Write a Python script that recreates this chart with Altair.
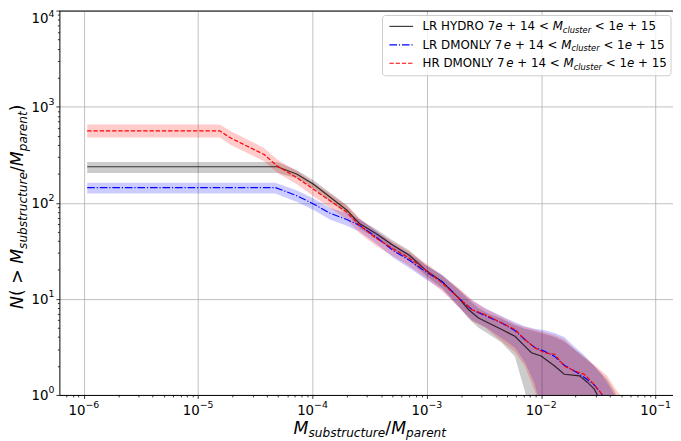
import altair as alt
import pandas as pd

# ---------------- data ----------------
HYDRO_X = [1.07e-6, 4.92e-5, 7.33e-5, 1.02e-4, 1.42e-4, 1.99e-4, 2.59e-4, 3.61e-4, 5.04e-4,
           7.02e-4, 9.77e-4, 1.36e-3, 1.90e-3, 2.32e-3, 2.83e-3, 3.46e-3, 4.52e-3, 5.89e-3,
           7.18e-3, 8.20e-3, 9.98e-3, 1.31e-2, 1.59e-2, 2.16e-2, 2.54e-2, 2.91e-2, 3.10e-2]
HYDRO_N = [237, 237, 198, 156, 115, 84, 60.3, 47.5, 36.1, 28.4, 19.9, 15.1, 10.2, 7.71, 6.32,
           5.61, 4.79, 4.08, 3.22, 2.75, 2.54, 2.00, 1.64, 1.58, 1.35, 1.15, 1.0]
HYDRO_BAND_X = [1.07e-6, 4.92e-5, 7.33e-5, 1.02e-4, 1.42e-4, 1.99e-4, 2.59e-4, 3.61e-4, 5.04e-4,
                7.02e-4, 9.77e-4, 1.36e-3, 1.90e-3, 2.32e-3, 2.83e-3, 3.46e-3, 4.52e-3, 5.89e-3,
                7.18e-3, 8.20e-3, 9.98e-3, 1.31e-2, 1.59e-2, 2.16e-2, 2.54e-2, 2.91e-2, 3.10e-2,
                3.78e-2, 4.47e-2]
HYDRO_LO = [204, 204, 180, 142, 104, 76, 54, 42.5, 32, 25, 17.5, 13, 8.4, 6.2, 5.0, 4.3, 3.5,
            2.5, 1.1, 0.5, 0.5, 0.5, 0.5, 0.5, 0.5, 0.5, 0.5, 0.5, 0.5]
HYDRO_HI = [265, 265, 218, 172, 128, 94, 67, 53, 40.5, 32, 22.5, 17.5, 12.5, 9.8, 8.0, 7.0, 6.2,
            5.3, 4.9, 4.7, 4.4, 4.0, 3.6, 2.7, 2.3, 2.0, 1.85, 1.45, 1.05]

LRDM_X = [1.07e-6, 4.72e-5, 7.33e-5, 1.02e-4, 1.42e-4, 1.99e-4, 2.59e-4, 3.61e-4, 5.04e-4,
          7.02e-4, 9.77e-4, 1.36e-3, 1.90e-3, 2.48e-3, 3.24e-3, 4.52e-3, 5.89e-3, 7.18e-3,
          8.77e-3, 1.07e-2, 1.31e-2, 1.59e-2, 1.95e-2, 2.37e-2, 2.91e-2, 3.42e-2]
LRDM_N = [144, 144, 118, 97.0, 78, 67, 58, 43.9, 32.0, 25.2, 19.1, 15.1, 10.2, 7.71, 6.69,
          5.61, 4.68, 3.78, 3.12, 2.84, 2.52, 2.04, 1.77, 1.53, 1.27, 1.0]
LRDM_BAND_X = [1.07e-6, 4.72e-5, 7.33e-5, 1.02e-4, 1.42e-4, 1.99e-4, 2.59e-4, 3.61e-4, 5.04e-4,
               7.02e-4, 9.77e-4, 1.36e-3, 1.90e-3, 2.48e-3, 3.24e-3, 4.52e-3, 5.89e-3, 7.18e-3,
               8.77e-3, 1.07e-2, 1.31e-2, 1.59e-2, 1.95e-2, 2.37e-2, 2.91e-2, 3.42e-2, 4.0e-2,
               4.6e-2]
LRDM_LO = [125, 125, 102, 84, 67, 57.5, 50, 37.5, 27, 21, 16, 12.5, 8.2, 6.0, 5.1, 3.9, 3.1,
           2.2, 1.3, 0.5, 0.5, 0.5, 0.5, 0.5, 0.5, 0.5, 0.5, 0.5]
LRDM_HI = [162, 162, 134, 111, 89, 78, 67, 51, 37.5, 29.5, 22.5, 17.8, 12.5, 9.6, 8.0, 6.6, 5.7,
           5.2, 4.9, 4.7, 4.4, 4.0, 3.2, 2.6, 2.0, 1.6, 1.2, 0.9]

HRDM_X = [1.07e-6, 1.54e-5, 1.93e-5, 3.77e-5, 4.92e-5, 7.33e-5, 1.02e-4, 1.42e-4, 1.99e-4,
          2.59e-4, 3.61e-4, 5.04e-4, 7.02e-4, 9.77e-4, 1.36e-3, 1.90e-3, 2.48e-3, 3.24e-3,
          4.52e-3, 5.89e-3, 7.18e-3, 8.77e-3, 1.07e-2, 1.31e-2, 1.59e-2, 1.95e-2, 2.37e-2,
          2.72e-2, 3.21e-2, 3.42e-2]
HRDM_N = [561, 561, 471, 318, 241, 182, 138, 105, 80, 58, 42.5, 33.3, 26.5, 19.9, 14.6, 10.2,
          7.71, 6.84, 5.61, 4.79, 3.78, 3.10, 2.75, 2.65, 2.00, 1.78, 1.64, 1.40, 1.11, 1.0]
HRDM_BAND_X = [1.07e-6, 1.54e-5, 1.93e-5, 3.77e-5, 4.92e-5, 7.33e-5, 1.02e-4, 1.42e-4, 1.99e-4,
               2.59e-4, 3.61e-4, 5.04e-4, 7.02e-4, 9.77e-4, 1.36e-3, 1.90e-3, 2.48e-3, 3.24e-3,
               4.52e-3, 5.89e-3, 7.18e-3, 8.77e-3, 1.07e-2, 1.31e-2, 1.59e-2, 1.95e-2, 2.37e-2,
               3.00e-2, 3.78e-2, 4.47e-2, 5.28e-2]
HRDM_LO = [479, 479, 400, 270, 205, 155, 117, 89, 67, 48, 35.5, 28, 22, 16.5, 12, 8.2, 5.9, 5.0,
           3.6, 2.8, 2.0, 1.1, 0.5, 0.5, 0.5, 0.5, 0.5, 0.5, 0.5, 0.5, 0.5]
HRDM_HI = [652, 652, 555, 372, 282, 213, 162, 124, 94, 69, 50, 39, 31, 23.5, 17.5, 13.0, 9.8,
           7.9, 6.5, 5.5, 5.1, 4.8, 4.5, 4.2, 3.8, 3.0, 2.5, 2.0, 1.57, 1.15, 0.9]

X_MAJOR = [1e-6, 1e-5, 1e-4, 1e-3, 1e-2, 1e-1]
X_EXP = ["\u22126", "\u22125", "\u22124", "\u22123", "\u22122", "\u22121"]
Y_MAJOR = [1, 10, 100, 1000, 10000]
Y_EXP = ["0", "1", "2", "3", "4"]
LEGEND_NAMES = ["LR HYDRO", "LR DMONLY", "HR DMONLY"]

# ---------------- layout ----------------
W, H = 621, 389
X_DOM = [6.11e-7, 0.142]
Y_DOM = [1, 10000]
FONT = "DejaVu Sans"

ADV = {" ": .318, "(": .390, ")": .390, "+": .838, "<": .838, ">": .838, "/": .337,
       "\u2212": .838, "A": .684, "D": .770, "H": .752, "L": .557, "M": .863, "N": .748,
       "O": .787, "R": .695, "Y": .611, "a": .613, "b": .635, "c": .550, "e": .615,
       "l": .278, "n": .634, "p": .635, "r": .411, "s": .521, "t": .392, "u": .634}
for d in "0123456789":
    ADV[d] = .636


def tw(s, size):
    return sum(ADV.get(c, 0.6) for c in s) * size


one = pd.DataFrame({"a": [0]})


def txt(text, x, y, size, italic=False, angle=0, align="left"):
    return alt.Chart(one).mark_text(
        text=text, align=align, baseline="alphabetic", fontSize=size, font=FONT,
        fontStyle="italic" if italic else "normal", angle=angle, color="black"
    ).encode(x=alt.value(x), y=alt.value(y))


def run(pieces, x0, y0, fs, sub_scale=0.7, sub_shift=3.0, vertical=False):
    out = []
    pos = 0.0
    for s, st in pieces:
        size = fs * sub_scale if st == "s" else fs
        ital = st in ("i", "s")
        shift = sub_shift if st == "s" else 0.0
        lead = len(s) - len(s.lstrip(" "))
        core = s.strip(" ")
        p = pos + tw(" " * lead, size)
        if core:
            if vertical:
                out.append(txt(core, x0 + shift, y0 - p, size, ital, angle=270))
            else:
                out.append(txt(core, x0 + p, y0 + shift, size, ital))
        pos += tw(s, size)
    return out


minor_x = [k * 10.0 ** e for e in range(-7, 0) for k in range(2, 10)
           if X_DOM[0] <= k * 10.0 ** e <= X_DOM[1]]
minor_y = [k * 10.0 ** e for e in range(0, 4) for k in range(2, 10)]
major_test = "abs(log(datum.value)/LN10 - round(log(datum.value)/LN10)) < 0.001"


def make_axis(vals):
    return alt.Axis(values=vals, labels=False, title=None, domain=True, domainColor="black",
                    domainWidth=1, ticks=True, tickColor="black", tickWidth=0.8,
                    tickSize={"condition": {"test": major_test, "value": 3.5}, "value": 2},
                    grid=True, gridColor="#b0b0b0", gridWidth=0.8,
                    gridOpacity={"condition": {"test": major_test, "value": 1}, "value": 0})


ax_x = make_axis(X_MAJOR + minor_x)
ax_y = make_axis(Y_MAJOR + minor_y)
xs = alt.Scale(type="log", domain=X_DOM, nice=False)
ys = alt.Scale(type="log", domain=Y_DOM, nice=False)


def band(xv, lo, hi, color):
    df = pd.DataFrame({"x": xv, "lo": lo, "hi": hi})
    return alt.Chart(df).mark_area(clip=True, color=color, opacity=0.2).encode(
        x=alt.X("x:Q", scale=xs, axis=ax_x), y=alt.Y("lo:Q", scale=ys, axis=ax_y), y2="hi:Q")


def line(xv, yv, color, dash, opacity=1.0):
    df = pd.DataFrame({"x": xv, "y": yv})
    kw = dict(clip=True, color=color, strokeWidth=1.2, opacity=opacity)
    if dash:
        kw["strokeDash"] = dash
    return alt.Chart(df).mark_line(**kw).encode(
        x=alt.X("x:Q", scale=xs, axis=ax_x), y=alt.Y("y:Q", scale=ys, axis=ax_y))


DASH_R = [4.4, 1.9]
DASH_B = [7.7, 1.9, 1.2, 1.9]

layers = [
    band(HYDRO_BAND_X, HYDRO_LO, HYDRO_HI, "black"),
    band(LRDM_BAND_X, LRDM_LO, LRDM_HI, "blue"),
    band(HRDM_BAND_X, HRDM_LO, HRDM_HI, "red"),
    line(HYDRO_X, HYDRO_N, "black", None, 0.75),
    line(LRDM_X, LRDM_N, "blue", DASH_B),
    line(HRDM_X, HRDM_N, "red", DASH_R),
]

# top spine
layers.append(alt.Chart(one).mark_rule(color="black", strokeWidth=1).encode(
    x=alt.value(0), x2=alt.value(W), y=alt.value(0.5), y2=alt.value(0.5)))

# tick labels (10 with superscript exponent)
TL = 13.5
TE = 9.5
xdf = pd.DataFrame({"v": X_MAJOR, "b": ["10"] * len(X_MAJOR), "e": X_EXP})
x_dx = (tw("10", TL) - tw(X_EXP[0], TE)) / 2
layers.append(alt.Chart(xdf).mark_text(align="right", baseline="alphabetic", dx=x_dx,
                                       fontSize=TL, font=FONT, color="black").encode(
    x=alt.X("v:Q", scale=xs, axis=ax_x), y=alt.value(H + 20), text="b:N"))
layers.append(alt.Chart(xdf).mark_text(align="left", baseline="alphabetic", dx=x_dx,
                                       fontSize=TE, font=FONT, color="black").encode(
    x=alt.X("v:Q", scale=xs, axis=ax_x), y=alt.value(H + 13.6), text="e:N"))

# y tick labels; the topmost one is nudged down so it stays inside the page
ydf = pd.DataFrame({"v": Y_MAJOR, "b": ["10"] * len(Y_MAJOR), "e": Y_EXP})
ydf_low = ydf.iloc[:-1]
ydf_top = ydf.iloc[-1:]
y_exp_w = tw("0", TE)
for dfy, shift in ((ydf_low, 0), (ydf_top, 8)):
    layers.append(alt.Chart(dfy).mark_text(align="right", baseline="alphabetic", dy=5 + shift,
                                           fontSize=TL, font=FONT, color="black").encode(
        x=alt.value(-5 - y_exp_w), y=alt.Y("v:Q", scale=ys, axis=ax_y), text="b:N"))
    layers.append(alt.Chart(dfy).mark_text(align="left", baseline="alphabetic",
                                           dy=-1.5 + shift, fontSize=TE, font=FONT,
                                           color="black").encode(
        x=alt.value(-5 - y_exp_w), y=alt.Y("v:Q", scale=ys, axis=ax_y), text="e:N"))

# axis titles (mathtext-like)
FT = 17.5
layers += run([("M", "i"), ("substructure", "s"), ("/", "n"), ("M", "i"), ("parent", "s")],
              237, 428.5, FT, sub_shift=3.5)
layers += run([("N", "i"), ("( > ", "n"), ("M", "i"), ("substructure", "s"), ("/", "n"),
               ("M", "i"), ("parent", "s"), (")", "n")],
              -36.5, 302, FT, sub_shift=3.5, vertical=True)

# legend
layers.append(alt.Chart(one).mark_rect(fill="white", fillOpacity=0.8, stroke="#cccccc",
                                       strokeWidth=1, cornerRadius=3).encode(
    x=alt.value(327), x2=alt.value(619), y=alt.value(5), y2=alt.value(66)))
handle_styles = [("black", None, 0.75), ("blue", DASH_B, 1.0), ("red", DASH_R, 1.0)]
row_y = [16, 34.7, 53.3]
for name, (col, dash, op), ry in zip(LEGEND_NAMES, handle_styles, row_y):
    kw = dict(color=col, strokeWidth=1.2, opacity=op)
    if dash:
        kw["strokeDash"] = dash
    layers.append(alt.Chart(one).mark_rule(**kw).encode(
        x=alt.value(334), x2=alt.value(358), y=alt.value(ry), y2=alt.value(ry)))
    pieces = [(name + " 7", "n"), ("e", "i"), (" + 14 < ", "n"), ("M", "i"), ("cluster", "s"),
              (" < 1", "n"), ("e", "i"), (" + 15", "n")]
    layers += run(pieces, 367.5, ry + 4.0, 12, sub_shift=2.5)

chart = alt.layer(*layers).properties(
    width=W, height=H,
    padding={"left": 52, "top": 0, "right": 0, "bottom": 44},
    autosize=alt.AutoSizeParams(type="none"),
).configure_view(stroke=None)

chart.save("out.html", embed_options={"renderer": "svg", "actions": False})
